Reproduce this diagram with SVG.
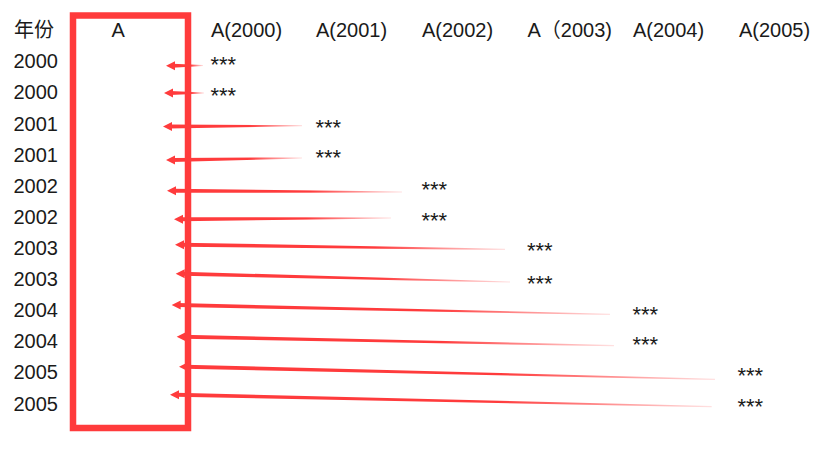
<svg xmlns="http://www.w3.org/2000/svg" width="825" height="462" viewBox="0 0 825 462">
<style>
.t{font-family:"Liberation Sans","Noto Sans CJK SC",Arial,sans-serif;font-size:20px;fill:#1a1a1a}
.s{font-family:"Liberation Sans",Arial,sans-serif;font-size:22px;fill:#1a1a1a}
.box{fill:none;stroke:#FF3B3C;stroke-width:6.5}
.shaft{fill:url(#fade)}
.head{fill:#FF3B3C}
</style>
<defs>
<linearGradient id="fade" x1="0" y1="0" x2="1" y2="0">
<stop offset="0" stop-color="#FF3B3C" stop-opacity="1"/>
<stop offset="0.6" stop-color="#FF3B3C" stop-opacity="1"/>
<stop offset="1" stop-color="#FF3B3C" stop-opacity="0.15"/>
</linearGradient>
</defs>
<rect width="825" height="462" fill="#ffffff"/>
<g id="header">
<text class="t" x="14" y="37">年份</text>
<text class="t" x="111.5" y="37">A</text>
<text class="t" x="211" y="37">A(2000)</text>
<text class="t" x="316" y="37">A(2001)</text>
<text class="t" x="422" y="37">A(2002)</text>
<text class="t" x="527.5" y="37">A（2003)</text>
<text class="t" x="633" y="37">A(2004)</text>
<text class="t" x="739" y="37">A(2005)</text>
</g>
<g id="years">
<text class="t" x="13.5" y="68.3">2000</text>
<text class="t" x="13.5" y="99.4">2000</text>
<text class="t" x="13.5" y="130.6">2001</text>
<text class="t" x="13.5" y="161.7">2001</text>
<text class="t" x="13.5" y="192.8">2002</text>
<text class="t" x="13.5" y="223.9">2002</text>
<text class="t" x="13.5" y="255">2003</text>
<text class="t" x="13.5" y="286.1">2003</text>
<text class="t" x="13.5" y="317.2">2004</text>
<text class="t" x="13.5" y="348.3">2004</text>
<text class="t" x="13.5" y="379.4">2005</text>
<text class="t" x="13.5" y="410.5">2005</text>
</g>
<g id="box-A">
<rect class="box" x="73" y="15.5" width="115" height="412.5"/>
</g>
<g id="values">
<text class="s" x="210.5" y="72.3">***</text>
<text class="s" x="210.5" y="103.3">***</text>
<text class="s" x="315.5" y="134.6">***</text>
<text class="s" x="315.5" y="165.3">***</text>
<text class="s" x="421.5" y="196.8">***</text>
<text class="s" x="421.5" y="227.6">***</text>
<text class="s" x="527" y="258.3">***</text>
<text class="s" x="527" y="290.6">***</text>
<text class="s" x="632.5" y="321.8">***</text>
<text class="s" x="632.5" y="352.4">***</text>
<text class="s" x="737.5" y="382.9">***</text>
<text class="s" x="737.5" y="414.3">***</text>
</g>
<g id="connectors">
<polygon class="shaft" points="172,63.7 203,65 203,66 172,67.7"/>
<polygon class="head" points="166,65.7 175,61.2 175,70.2"/>
<polygon class="shaft" points="170,91 204,92.4 204,93.6 170,95"/>
<polygon class="head" points="164,93 173,88.5 173,97.5"/>
<polygon class="shaft" points="169,124.5 302,125.1 302,126.3 169,128.5"/>
<polygon class="head" points="163,126.5 172,122 172,131"/>
<polygon class="shaft" points="172,158 302,157.4 302,158.6 172,162"/>
<polygon class="head" points="166,160 175,155.5 175,164.5"/>
<polygon class="shaft" points="173,188.7 402,191.4 402,192.6 173,192.7"/>
<polygon class="head" points="167,190.7 176,186.2 176,195.2"/>
<polygon class="shaft" points="180,217.3 391,217.4 391,218.6 180,221.3"/>
<polygon class="head" points="174,219.3 183,214.8 183,223.8"/>
<polygon class="shaft" points="181,242.7 505,248.7 505,249.9 181,246.7"/>
<polygon class="head" points="175,244.7 184,240.2 184,249.2"/>
<polygon class="shaft" points="181.7,271.7 510,281.4 510,282.6 181.7,275.7"/>
<polygon class="head" points="175.7,273.7 184.7,269.2 184.7,278.2"/>
<polygon class="shaft" points="177.7,303 610,313.7 610,314.9 177.7,307"/>
<polygon class="head" points="171.7,305 180.7,300.5 180.7,309.5"/>
<polygon class="shaft" points="182.7,334.7 614,345.1 614,346.3 182.7,338.7"/>
<polygon class="head" points="176.7,336.7 185.7,332.2 185.7,341.2"/>
<polygon class="shaft" points="185,364.7 715,378.7 715,379.9 185,368.7"/>
<polygon class="head" points="179,366.7 188,362.2 188,371.2"/>
<polygon class="shaft" points="176,392.7 711.7,406.1 711.7,407.3 176,396.7"/>
<polygon class="head" points="170,394.7 179,390.2 179,399.2"/>
</g>
</svg>
